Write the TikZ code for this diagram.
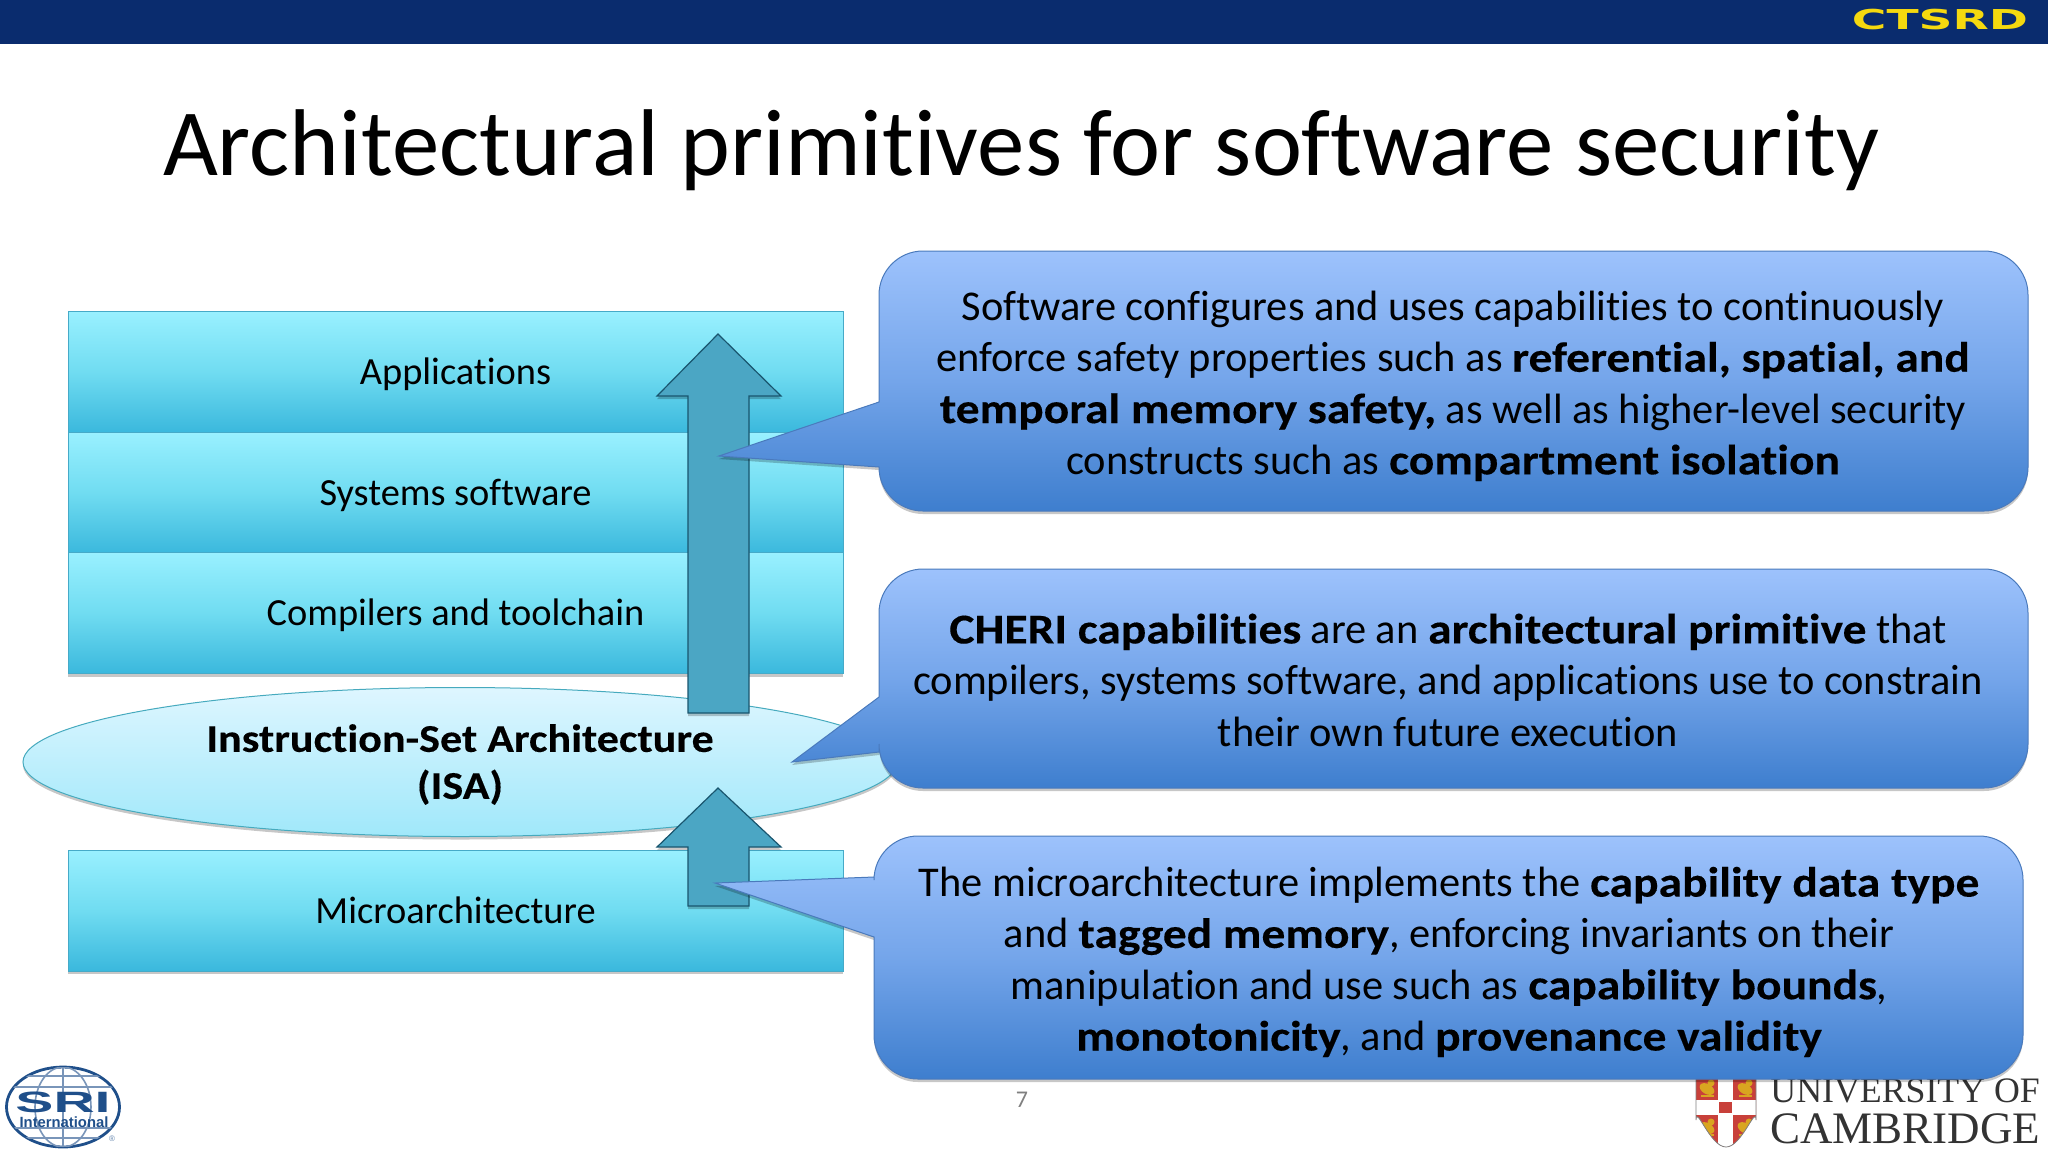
\documentclass[tikz,border=0pt]{standalone}
\usepackage{fontspec}
\setmainfont{Carlito}[Ligatures=CommonOff, BoldFeatures={FakeStretch=1.12, FakeBold=.25}]
\newfontfamily\logoserif{Liberation Serif}
\newfontfamily\logosans{Liberation Sans}
\newfontfamily\logowide{DejaVu Sans}
\usetikzlibrary{shapes.geometric,shadows}
\definecolor{barBlue}{HTML}{0A2C6E}
\definecolor{ctsrdYellow}{HTML}{F5D90F}
\definecolor{sriBlue}{HTML}{1F4F8A}
\definecolor{camRed}{HTML}{C8403A}
\definecolor{camGold}{HTML}{D9A520}
\definecolor{stackLow}{HTML}{3AB8DD}
\definecolor{stackMid}{HTML}{70DCF1}
\definecolor{stackHigh}{HTML}{99F0FF}
\definecolor{stackEdge}{HTML}{46AAC8}
\definecolor{isaLow}{HTML}{A0E8FA}
\definecolor{isaHigh}{HTML}{DEF6FF}
\definecolor{isaEdge}{HTML}{46AABE}
\definecolor{arrowFill}{HTML}{4BA6C4}
\definecolor{arrowEdge}{HTML}{19556E}
\definecolor{bubbleLow}{HTML}{3E7ECE}
\definecolor{bubbleMid}{HTML}{74A5EA}
\definecolor{bubbleHigh}{HTML}{9DC2FC}
\definecolor{bubbleEdge}{HTML}{4A7ABC}
\pgfdeclareverticalshading{stackFill}{100bp}{color(0bp)=(stackLow); color(25bp)=(stackLow); color(50bp)=(stackMid); color(75bp)=(stackHigh); color(100bp)=(stackHigh)}
\pgfdeclareverticalshading{isaFill}{100bp}{color(0bp)=(isaLow); color(25bp)=(isaLow); color(75bp)=(isaHigh); color(100bp)=(isaHigh)}
\pgfdeclareverticalshading{bubbleFill}{100bp}{color(0bp)=(bubbleLow); color(25bp)=(bubbleLow); color(50bp)=(bubbleMid); color(75bp)=(bubbleHigh); color(100bp)=(bubbleHigh)}
\tikzstyle{softShadow}=[general shadow={fill=black, opacity=.22, shadow yshift=-1.5pt}]
\tikzstyle{stackLayer}=[shape = rectangle, minimum width = 387.5pt, minimum height = 60.5pt, inner sep = 0pt, text height = 16pt, text depth = 3.1pt, draw = stackEdge, line width = .5pt, shading = stackFill, softShadow, font = \fontsize{19.2}{23}\selectfont]
\tikzstyle{isaLayer}=[shape = ellipse, minimum width = 437pt, minimum height = 74.5pt, inner sep = 0pt, draw = isaEdge, line width = .5pt, shading = isaFill, softShadow]
\tikzstyle{isaText}=[align = center, inner sep = 0pt, font = \fontsize{19.7}{23.5}\selectfont\bfseries]
\tikzstyle{riseArrow}=[draw = arrowEdge, line width = .6pt, fill = arrowFill, softShadow]
\tikzstyle{bubble}=[draw = bubbleEdge, line width = .5pt, shading = bubbleFill, softShadow]
\tikzstyle{bubbleText}=[align = center, inner sep = 0pt, font = \fontsize{21.2}{25.65}\selectfont]
\begin{document}
\begin{tikzpicture}[x = .5pt, y = -.5pt]
\useasboundingbox (0,0) rectangle (2048,1152);
% header
\fill[barBlue] (0,0) rectangle (2048,44);
\node[font = \logowide\bfseries\fontsize{13.7}{14}\selectfont, text = ctsrdYellow, xscale = 1.72, inner sep = 0pt] (ctsrd) at (1940,20) {CTSRD};
\node[font = \fontsize{47.4}{50}\selectfont, inner sep = 0pt] (title) at (1021,150) {Architectural primitives for software security};
% cambridge logo
\begin{scope}
\clip (1696,1070) -- (1756,1070) -- (1756,1120) to[out = 90, in = 0] (1726,1147) to[out = 180, in = 90] (1696,1120) -- cycle;
\fill[camRed] (1690,1070) rectangle (1760,1150);
\foreach \lionx/\liony in {1707/1089, 1745/1089, 1707/1128, 1745/1128} {
  \fill[camGold, rotate around = {-30:(\lionx,\liony)}] (\lionx,\liony) ellipse (8 and 5);
  \fill[camGold] (\lionx+4,\liony-6) circle (3.5);
  \fill[camGold] (\lionx-6,\liony+6) rectangle (\lionx+7,\liony+8);
}
\fill[white] (1718,1070) rectangle (1733,1150);
\fill[white] (1690,1100) rectangle (1760,1115);
\fill[camRed] (1719,1102) rectangle (1732,1113);
\end{scope}
\draw[gray, line width = .4pt] (1696,1070) -- (1696,1120) to[out = 90, in = 180] (1726,1147) to[out = 0, in = 90] (1756,1120) -- (1756,1070);
\node[font = \logoserif\fontsize{17.9}{21}\selectfont, text = black!80, anchor = base west, inner sep = 0pt] (univ) at (1770,1102) {UNIVERSITY OF};
\node[font = \logoserif\fontsize{22.5}{23}\selectfont, text = black!80, anchor = base west, inner sep = 0pt] (cam) at (1770,1143) {CAMBRIDGE};
% sri logo
\draw[sriBlue, line width = 1.4pt] (63,1107) ellipse (56.5 and 40);
\begin{scope}
\clip (63,1107) ellipse (56.5 and 40);
\foreach \lat in {1076,1087,1128,1138}
  \draw[sriBlue!60, line width = 1pt] (7,\lat) -- (120,\lat);
\draw[sriBlue!60, line width = .8pt] (63,1067) -- (63,1147);
\draw[sriBlue!60, line width = .8pt] (63,1107) ellipse (28 and 40);
\end{scope}
\node[font = \logosans\bfseries\fontsize{14.7}{15}\selectfont, text = sriBlue, xscale = 1.94, inner sep = 0pt] (sri) at (63,1102.5) {SRI};
\node[font = \logosans\bfseries\fontsize{7.4}{8}\selectfont, text = sriBlue, inner sep = 0pt] (sriIntl) at (64,1122) {International};
\node[font = \logosans\fontsize{4}{4}\selectfont, text = sriBlue!70, inner sep = 0pt] (sriReg) at (112,1139) {®};
\node[font = \fontsize{12}{12}\selectfont, text = black!50, inner sep = 0pt] (pageNum) at (1022,1100) {7};
% stack
\node[stackLayer] (apps) at (455.5,372) {Applications};
\node[stackLayer] (sys) at (455.5,493) {Systems software};
\node[stackLayer] (tools) at (455.5,613) {Compilers and toolchain};
\node[stackLayer] (micro) at (455.5,910.5) {Microarchitecture};
\node[isaLayer] (isa) at (460,762) {};
\node[isaText] (isaLabel) at (460,764.5) {Instruction-Set Architecture\\(ISA)};
% arrows
\draw[riseArrow] (718,334) -- (781,396) -- (749,396) -- (749,713) -- (688,713) -- (688,396) -- (657,396) -- cycle;
\draw[riseArrow] (718,788) -- (781,847) -- (749,847) -- (749,906) -- (688,906) -- (688,847) -- (657,847) -- cycle;
% bubbles
\shade[bubble] (879,402) -- (719,456) -- (879,467) [rounded corners = 22pt] -- (879,511) -- (2028,511) -- (2028,251) -- (879,251) [sharp corners] -- cycle;
\shade[bubble] (879,697) -- (792,762) -- (879,752) [rounded corners = 22pt] -- (879,788) -- (2028,788) -- (2028,569) -- (879,569) [sharp corners] -- cycle;
\shade[bubble] (874,877) -- (715,883) -- (874,937) [rounded corners = 22pt] -- (874,1079) -- (2023,1079) -- (2023,836) -- (874,836) [sharp corners] -- cycle;
\node[bubbleText] (softText) at (1453,386) {Software configures and uses capabilities to continuously\\enforce safety properties such as \textbf{referential, spatial, and}\\\textbf{temporal memory safety,} as well as higher-level security\\constructs such as \textbf{compartment isolation}};
\node[bubbleText] (cheriText) at (1448,680) {\textbf{CHERI capabilities} are an \textbf{architectural primitive} that\\compilers, systems software, and applications use to constrain\\their own future execution};
\node[bubbleText] (microText) at (1449,962) {The microarchitecture implements the \textbf{capability data type}\\and \textbf{tagged memory}, enforcing invariants on their\\manipulation and use such as \textbf{capability bounds},\\\textbf{monotonicity}, and \textbf{provenance validity}};
\end{tikzpicture}
\end{document}
